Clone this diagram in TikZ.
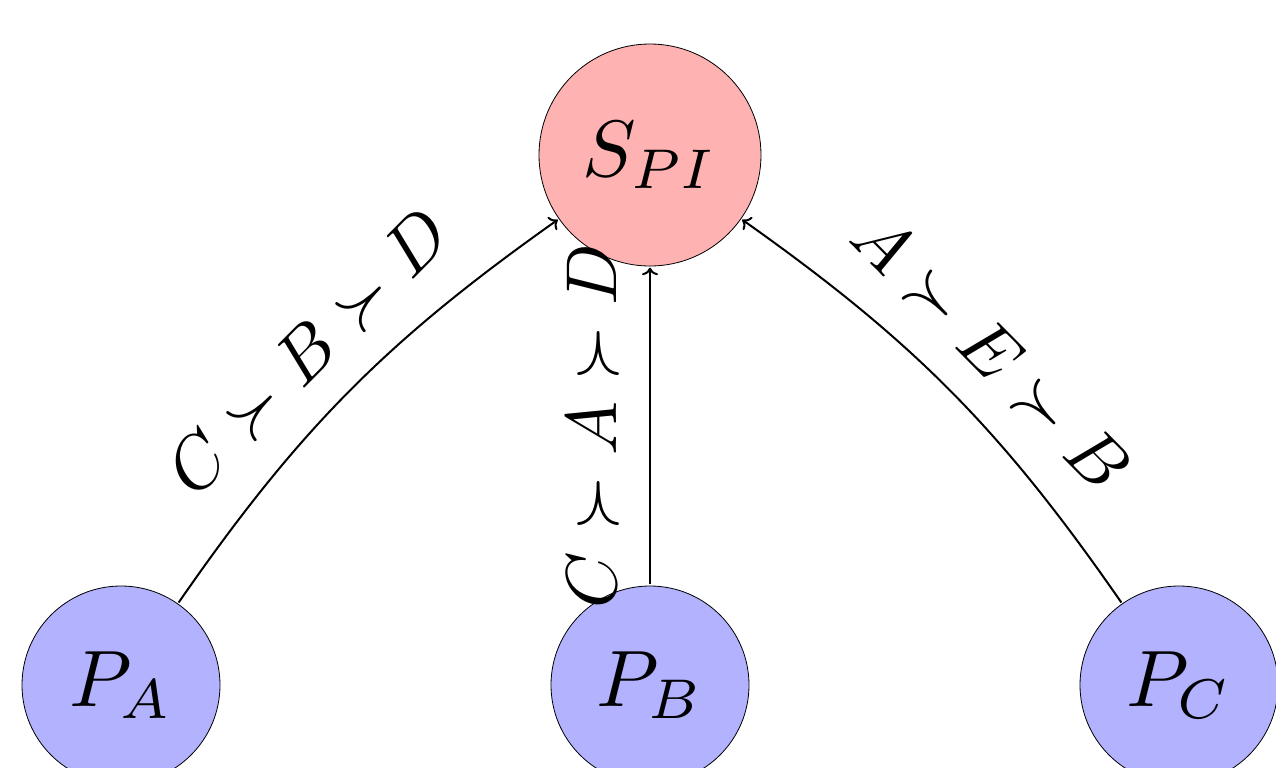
\documentclass[tikz,border=0pt]{standalone}
\usetikzlibrary{arrows.meta}
\begin{document}
\begin{tikzpicture}[x=0.5pt,y=-0.5pt,
  pnode/.style={circle,draw,line width=0.4pt,fill=blue!30,minimum size=24.75pt,inner sep=0pt,scale=4},
  snode/.style={circle,draw,line width=0.4pt,fill=red!30,minimum size=27.75pt,inner sep=0pt,scale=4},
  lbl/.style={sloped,above,scale=3.6,inner sep=3.7pt},
  edgeline/.style={->,line width=1pt}]
\useasboundingbox (0,0) rectangle (1276,767);
\node[snode] (s) at (650,155) {$S_{PI}$};
\node[pnode] (pa) at (121,685) {$P_A$};
\node[pnode] (pb) at (650,685) {$P_B$};
\node[pnode] (pc) at (1179,685) {$P_C$};
\draw[edgeline] (pa) to[bend left=10] node[lbl,midway] {$C\succ B\succ D$} (s);
\draw[edgeline] (pb) -- node[lbl,midway] {$C\succ A\succ D$} (s);
\draw[edgeline] (pc) to[bend right=10] node[lbl,midway] {$A\succ E\succ B$} (s);
\end{tikzpicture}
\end{document}
